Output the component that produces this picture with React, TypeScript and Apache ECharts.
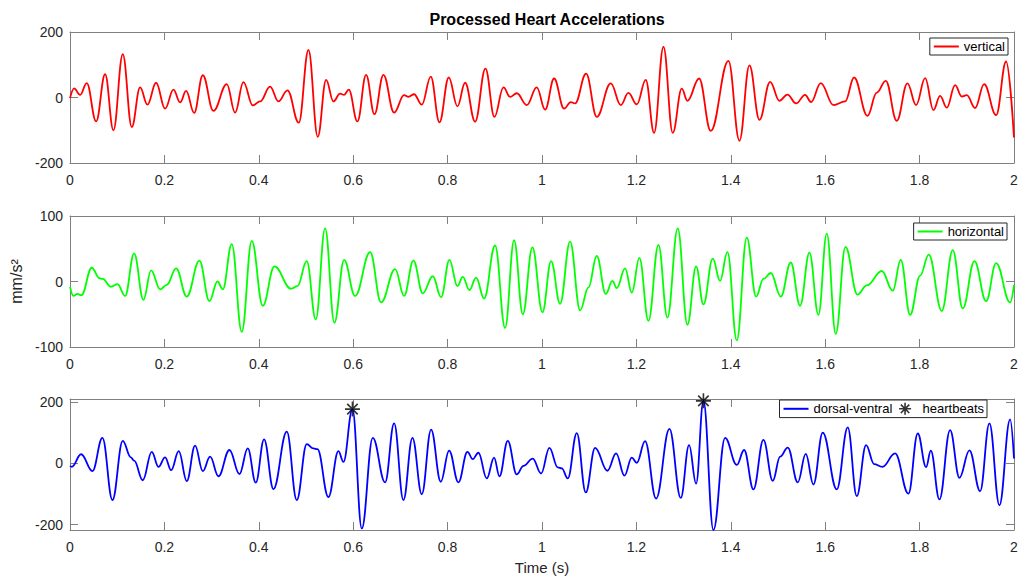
import React, { useEffect, useRef } from "react";
import * as echarts from "echarts";

// Time instants (s) of each turning point of the processed signals, with the acceleration (mm/s^2) there.
const verticalTime = [
  0, 0.0087, 0.0214, 0.0355, 0.0553, 0.0744, 0.092, 0.1118, 0.1309, 0.1485, 0.164, 0.1824, 0.2015, 0.2191,
  0.2333, 0.246, 0.263, 0.2813, 0.3039, 0.3321, 0.3498, 0.3674, 0.3872, 0.4027, 0.4239, 0.4416, 0.4607,
  0.4847, 0.5052, 0.5249, 0.5426, 0.5581, 0.5722, 0.5807, 0.5906, 0.609, 0.6273, 0.645, 0.664, 0.6867,
  0.7078, 0.717, 0.729, 0.7453, 0.7643, 0.7827, 0.8025, 0.8208, 0.8371, 0.8583, 0.8802, 0.8992, 0.9183,
  0.9324, 0.9465, 0.9677, 0.9889, 1.0066, 1.0256, 1.0468, 1.061, 1.0701, 1.0934, 1.116, 1.1457, 1.1669,
  1.1831, 1.2008, 1.2198, 1.2375, 1.2573, 1.277, 1.2961, 1.3081, 1.3328, 1.3575, 1.395, 1.4183, 1.4395,
  1.4607, 1.4833, 1.503, 1.52, 1.5383, 1.5574, 1.5701, 1.5906, 1.6174, 1.6422, 1.6612, 1.6895, 1.7093,
  1.7283, 1.7516, 1.7742, 1.7926, 1.8117, 1.8293, 1.8434, 1.8576, 1.8752, 1.8893, 1.9, 1.9176, 1.9367,
  1.9621, 1.9833, 2.0,
];
const verticalValue = [
  -2, 28, 8, 44, -73, 71, -100, 132, -90, 31, -22, 45, -34, 24, -15, 20, -47, 68, -41, 41, -46, 47, -24, -12,
  33, -12, 22, -77, 145, -120, 54, -12, 12, 8, 24, -73, 69, -51, 69, -46, 7, 2, 10, -22, 64, -76, 61, -27,
  45, -74, 88, -59, 31, 2, 13, -23, 31, -37, 58, -34, -14, -18, 73, -59, 43, -23, 14, -21, 54, -108, 155,
  -108, 27, -10, 58, -102, 112, -132, 98, -68, 48, -10, 9, -18, 8, -14, 44, -23, -12, 61, -56, 15, 51, -71,
  43, -23, 59, -38, 5, -31, 38, 3, 7, -32, 41, -54, 110, -122,
];

const horizontalTime = [
  0, 0.0073, 0.0157, 0.0242, 0.0461, 0.0624, 0.0694, 0.0864, 0.1005, 0.1167, 0.1358, 0.1556, 0.1718,
  0.1909, 0.205, 0.2248, 0.2474, 0.2742, 0.2954, 0.3124, 0.3237, 0.3427, 0.3639, 0.3851, 0.4084, 0.4331,
  0.4684, 0.4818, 0.5016, 0.5207, 0.5405, 0.5602, 0.5807, 0.604, 0.6358, 0.6591, 0.6888, 0.7078, 0.7276,
  0.7474, 0.7686, 0.7862, 0.8039, 0.8208, 0.8321, 0.8463, 0.8604, 0.8773, 0.9006, 0.9218, 0.9409, 0.9593,
  0.9797, 1.0009, 1.0193, 1.0383, 1.0595, 1.0807, 1.0984, 1.116, 1.1351, 1.1492, 1.1584, 1.176, 1.1902,
  1.2064, 1.2255, 1.2467, 1.2657, 1.2876, 1.3081, 1.3265, 1.342, 1.3618, 1.3773, 1.3929, 1.4127, 1.4338,
  1.4536, 1.4691, 1.4847, 1.5059, 1.527, 1.5468, 1.5666, 1.5857, 1.6033, 1.6224, 1.6429, 1.6683, 1.6881,
  1.7198, 1.7431, 1.7601, 1.7799, 1.8011, 1.8194, 1.847, 1.8703, 1.8914, 1.9162, 1.9409, 1.9621, 1.9917, 2.0,
];
const horizontalValue = [
  -8, -22, -19, -21, 21, 5, 4, -8, -4, -22, 43, -28, 17, -12, -5, 20, -23, 32, -30, 0, -12, 57, -77, 62, -37,
  23, -11, -7, 31, -58, 81, -63, 33, -22, 45, -32, 19, -22, 32, -18, 8, -24, 33, -7, 7, -13, 6, -26, 55, -71,
  63, -50, 52, -47, 31, -34, 61, -44, -9, 39, -19, 1, -10, 20, -17, 36, -60, 56, -55, 81, -66, 23, -35, 35,
  1, 45, -90, 67, -23, 4, 13, -23, 29, -37, 44, -51, 73, -80, 53, -20, -6, 16, -14, 33, -51, 9, 41, -45, 48,
  -41, 31, -30, 28, -32, -5,
];

const dorsalTime = [
  0, 0.0037, 0.0235, 0.0475, 0.0687, 0.0899, 0.1118, 0.1288, 0.1358, 0.1542, 0.1732, 0.1874, 0.2015,
  0.2142, 0.2304, 0.2474, 0.265, 0.2813, 0.2968, 0.3145, 0.3378, 0.359, 0.3766, 0.3936, 0.4112, 0.431,
  0.4593, 0.4804, 0.5016, 0.5157, 0.5242, 0.5475, 0.5687, 0.5793, 0.5984, 0.6182, 0.6415, 0.6676, 0.6867,
  0.7064, 0.7255, 0.7453, 0.765, 0.7855, 0.8032, 0.8229, 0.842, 0.8533, 0.8653, 0.883, 0.8985, 0.9098,
  0.9275, 0.9465, 0.9607, 0.9804, 0.9981, 1.0157, 1.0334, 1.0419, 1.0546, 1.0737, 1.0927, 1.1125, 1.1386,
  1.157, 1.1747, 1.1902, 1.2008, 1.2184, 1.2417, 1.27, 1.294, 1.3116, 1.3265, 1.342, 1.3632, 1.3879, 1.4127,
  1.4282, 1.448, 1.4691, 1.4889, 1.5045, 1.5207, 1.5419, 1.5588, 1.575, 1.5948, 1.6245, 1.6478, 1.6669,
  1.6866, 1.7036, 1.7212, 1.7481, 1.7763, 1.7961, 1.8138, 1.8237, 1.842, 1.8646, 1.8844, 1.9056, 1.9282,
  1.9479, 1.9691, 1.9917, 2.0,
];
const dorsalValue = [
  -8, -11, 30, -25, 84, -120, 74, 20, 9, -55, 38, -11, 20, -22, 40, -58, 58, -25, 22, -42, 44, -35, 49, -63,
  79, -84, 104, -120, 63, 49, 47, -110, 40, 5, 178, -213, 84, -62, 131, -120, 84, -101, 111, -60, 42, -62,
  38, 14, 35, -49, 19, -42, 74, -36, -8, 16, -33, 51, -13, -16, -49, 99, -95, 51, -24, 33, -40, 19, 2, 73,
  -115, 113, -113, 60, -66, 205, -218, 84, -5, 44, -85, 77, -57, 22, 52, -62, 31, -69, 101, -85, 118, -107,
  60, -2, -11, 33, -99, 98, -12, 42, -118, 109, -47, 43, -91, 131, -137, 144, 16,
];

// Detected heartbeats on the dorsal-ventral trace.
const heartbeatTime = [0.5984, 1.342];
const heartbeatValue = [178, 205];

// Axis ticks.
const timeMin = 0;
const timeMax = 2;
const timeStep = 0.2;
const verticalTicks = [-200, 0, 200];
const horizontalTicks = [-100, 0, 100];
const dorsalTicks = [-200, 0, 200];
const dorsalRange = [-218, 211];

const FONT = "'Liberation Sans', Arial, Helvetica, sans-serif";
const AXIS_COLOR = "#808080";
const TEXT_COLOR = "#262626";
const ASTERISK = "path://M10,0 L10,20 M0,10 L20,10 M3,3 L17,17 M3,17 L17,3";
const NO_MARKER = { color: "rgba(0,0,0,0)", borderColor: "rgba(0,0,0,0)", borderWidth: 0 };

const pair = (ts: number[], vs: number[]) => ts.map((t, i) => [t, vs[i]]);

const grids = [
  { left: 70, top: 32, width: 944, height: 131 },
  { left: 70, top: 216, width: 944, height: 131 },
  { left: 70, top: 399, width: 944, height: 131 },
];

function timeAxes(gridIndex: number, extra: any = {}) {
  const common = {
    type: "value",
    gridIndex,
    min: timeMin,
    max: timeMax,
    interval: timeStep,
    splitLine: { show: false },
    axisLine: { show: true, onZero: false, lineStyle: { color: AXIS_COLOR, width: 1 } },
    axisTick: { show: true, inside: true, length: 8, lineStyle: { color: AXIS_COLOR } },
  };
  return [
    {
      ...common,
      position: "bottom",
      axisLabel: {
        show: true,
        margin: 10,
        fontSize: 14,
        color: TEXT_COLOR,
        fontFamily: FONT,
        formatter: (v: number) => String(Number(v.toFixed(1))),
      },
      ...extra,
    },
    { ...common, position: "top", axisLabel: { show: false } },
  ];
}

function valueAxes(gridIndex: number, ticks: number[], range: number[], extra: any = {}) {
  const common = {
    type: "value",
    gridIndex,
    min: range[0],
    max: range[1],
    splitLine: { show: false },
    axisLine: { show: true, onZero: false, lineStyle: { color: AXIS_COLOR, width: 1 } },
    axisTick: { show: true, inside: true, length: 8, customValues: ticks, lineStyle: { color: AXIS_COLOR } },
  };
  return [
    {
      ...common,
      position: "left",
      axisLabel: { show: true, margin: 7, fontSize: 14, color: TEXT_COLOR, fontFamily: FONT, customValues: ticks },
      ...extra,
    },
    { ...common, position: "right", axisLabel: { show: false } },
  ];
}

function legendBox(names: any[], right: number, top: number) {
  return {
    data: names,
    right,
    top,
    orient: "horizontal",
    itemWidth: 25,
    itemHeight: 12,
    itemGap: 6,
    padding: [2, 3, 2, 3],
    borderColor: TEXT_COLOR,
    borderWidth: 1,
    backgroundColor: "#ffffff",
    selectedMode: false,
    textStyle: { fontSize: 13, color: "#000", fontFamily: FONT },
  };
}

function lineSeries(name: string, color: string, axis: number, ts: number[], vs: number[]) {
  return {
    name,
    type: "line",
    xAxisIndex: axis,
    yAxisIndex: axis,
    data: pair(ts, vs),
    symbol: "none",
    showSymbol: false,
    smooth: 0.4,
    smoothMonotone: "x",
    lineStyle: { color, width: 1.8 },
    itemStyle: { color },
  };
}

export default function App() {
  const ref = useRef<HTMLDivElement>(null);

  useEffect(() => {
    if (!ref.current) return;
    const chart = echarts.init(ref.current, undefined, { renderer: "svg" });
    chart.setOption({
      animation: false,
      backgroundColor: "#ffffff",
      textStyle: { fontFamily: FONT },
      title: {
        text: "Processed Heart Accelerations",
        left: 542,
        top: 6,
        textAlign: "center",
        textStyle: { fontSize: 16, fontWeight: "bold", color: "#000", fontFamily: FONT },
      },
      grid: grids,
      xAxis: [
        ...timeAxes(0),
        ...timeAxes(1),
        ...timeAxes(2, {
          name: "Time (s)",
          nameLocation: "middle",
          nameGap: 30,
          nameTextStyle: { fontSize: 15, color: TEXT_COLOR, fontFamily: FONT },
        }),
      ],
      yAxis: [
        ...valueAxes(0, verticalTicks, [verticalTicks[0], verticalTicks[2]]),
        ...valueAxes(1, horizontalTicks, [horizontalTicks[0], horizontalTicks[2]], {
          name: "mm/s²",
          nameLocation: "middle",
          nameGap: 36,
          nameTextStyle: { fontSize: 16, color: TEXT_COLOR, fontFamily: FONT },
        }),
        ...valueAxes(2, dorsalTicks, dorsalRange),
      ],
      legend: [
        legendBox([{ name: "vertical", itemStyle: NO_MARKER }], 14, 38),
        legendBox([{ name: "horizontal", itemStyle: NO_MARKER }], 15, 223),
        legendBox(
          [
            { name: "dorsal-ventral", itemStyle: NO_MARKER },
            {
              name: "heartbeats",
              icon: ASTERISK,
              itemStyle: { color: "rgba(0,0,0,0)", borderColor: "#000", borderWidth: 1.6 },
            },
          ],
          35,
          400
        ),
      ],
      series: [
        lineSeries("vertical", "#ff0000", 0, verticalTime, verticalValue),
        lineSeries("horizontal", "#00ff00", 2, horizontalTime, horizontalValue),
        lineSeries("dorsal-ventral", "#0000ff", 4, dorsalTime, dorsalValue),
        {
          name: "heartbeats",
          type: "scatter",
          xAxisIndex: 4,
          yAxisIndex: 4,
          data: pair(heartbeatTime, heartbeatValue),
          symbol: ASTERISK,
          symbolSize: 15,
          clip: false,
          z: 5,
          itemStyle: { color: "rgba(0,0,0,0)", borderColor: "#000", borderWidth: 1.6 },
        },
      ],
    });
    return () => chart.dispose();
  }, []);

  return (
    <div
      ref={ref}
      style={{ position: "fixed", left: 0, top: 0, width: 1022, height: 580, background: "#ffffff" }}
    />
  );
}
